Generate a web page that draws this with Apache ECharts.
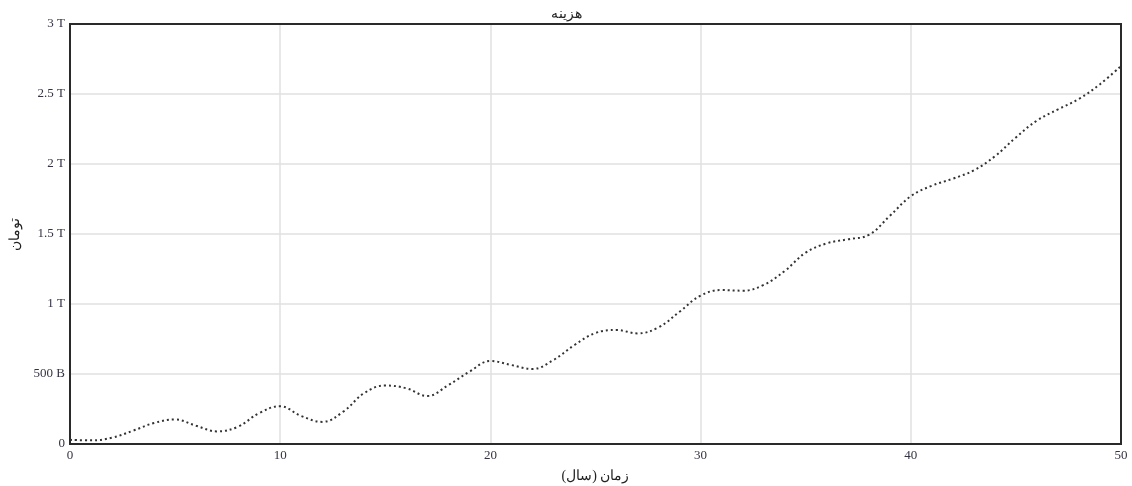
<!DOCTYPE html>
<html>
<head>
<meta charset="utf-8">
<script src="https://cdn.jsdelivr.net/npm/echarts@6/dist/echarts.min.js"></script>
<style>
html, body { margin: 0; padding: 0; background: #fff; }
#chart { width: 1132px; height: 486px; }
</style>
</head>
<body>
<div id="chart"></div>
<script>
// years and cost (in billions of toman)
const years = [0, 1, 2, 3, 4, 5, 6, 7, 8, 9,
    10, 11, 12, 13, 14, 15, 16, 17, 18, 19,
    20, 21, 22, 23, 24, 25, 26, 27, 28, 29,
    30, 31, 32, 33, 34, 35, 36, 37, 38, 39,
    40, 41, 42, 43, 44, 45, 46, 47, 48, 49, 50]
const cost = [30, 26, 45, 95, 150, 175, 130, 90, 124, 221,
    270, 200, 158, 231, 364, 418, 398, 343, 421, 516,
    593, 564, 536, 600, 707, 793, 814, 790, 833, 945,
    1060, 1100, 1095, 1136, 1236, 1367, 1433, 1462, 1493, 1629,
    1770, 1845, 1895, 1955, 2055, 2190, 2310, 2390, 2465, 2570, 2700]

const chartDom = document.getElementById('chart')
const myChart = echarts.init(chartDom)
const labelFont = 'Liberation Serif, DejaVu Serif, serif'

const option = {
    animation: false,
    title: {
        text: 'هزینه',
        left: 'center',
        top: 2,
        textStyle: { fontSize: 14, fontWeight: 'normal', color: '#222', fontFamily: labelFont }
    },
    grid: {
        left: 70, right: 11, top: 24, bottom: 42,
        outerBoundsMode: 'none',
        containLabel: false,
        show: true,
        borderColor: '#2a2a2a',
        borderWidth: 2,
        z: 3
    },
    xAxis: {
        type: 'value',
        min: 0,
        max: 50,
        interval: 10,
        name: 'زمان (سال)',
        nameLocation: 'middle',
        nameGap: 25,
        nameTextStyle: { fontSize: 14, color: '#222', fontFamily: labelFont },
        axisLine: { show: true, lineStyle: { color: '#2a2a2a', width: 2 } },
        axisTick: { show: false },
        axisLabel: { fontSize: 13, color: '#334', fontFamily: labelFont, margin: 5 },
        splitLine: { showMinLine: false, showMaxLine: false, lineStyle: { color: '#e0e0e0', width: 1.5 } }
    },
    yAxis: {
        type: 'value',
        min: 0,
        max: 3000,
        interval: 500,
        name: 'تومان',
        nameLocation: 'middle',
        nameGap: 46,
        nameRotate: 90,
        nameTextStyle: { fontSize: 14, color: '#222', fontFamily: labelFont },
        axisLine: { show: true, lineStyle: { color: '#2a2a2a', width: 2 } },
        axisTick: { show: false },
        axisLabel: {
            fontSize: 13,
            color: '#334',
            fontFamily: labelFont,
            margin: 5,
            formatter: function (v) {
                if (v === 0) return '0'
                if (v < 1000) return v + ' B'
                return (v / 1000) + ' T'
            }
        },
        splitLine: { showMinLine: false, showMaxLine: false, lineStyle: { color: '#e0e0e0', width: 1.5 } }
    },
    series: [
        {
            type: 'line',
            data: years.map((y, i) => [y, cost[i]]),
            smooth: 0.4,
            showSymbol: false,
            lineStyle: { color: '#333', width: 2, type: [2, 3] }
        }
    ]
}
myChart.setOption(option)
</script>
</body>
</html>
